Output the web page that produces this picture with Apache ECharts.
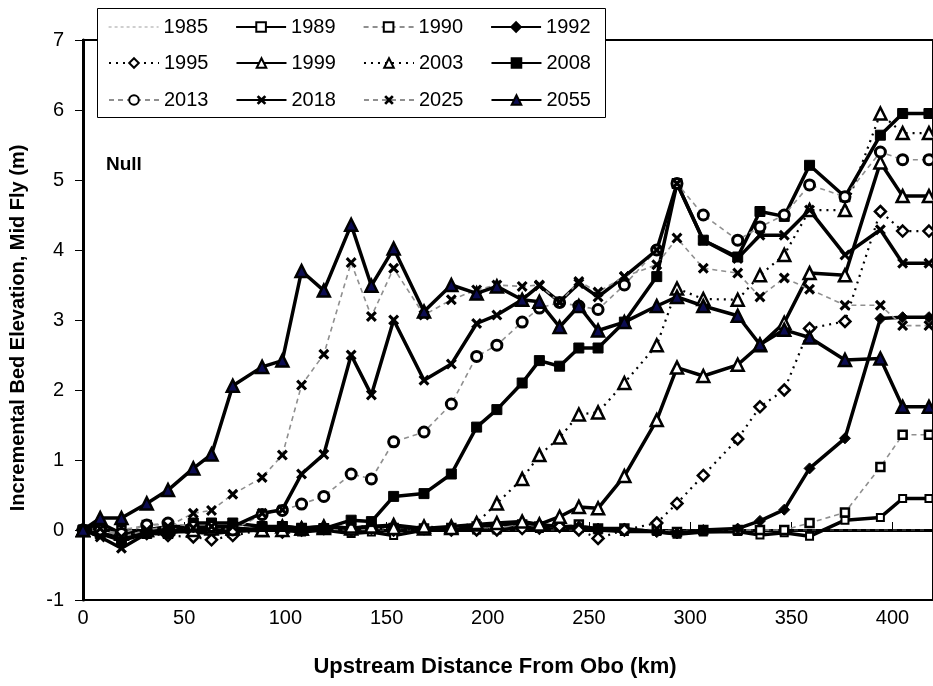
<!DOCTYPE html>
<html>
<head>
<meta charset="utf-8">
<script src="https://cdn.jsdelivr.net/npm/echarts@6/dist/echarts.min.js"></script>
<style>
  html, body { margin: 0; padding: 0; background: #fff; }
  #chart { width: 933px; height: 686px; }
</style>
</head>
<body>
<div id="chart"></div>
<script>
// Survey stations, upstream distance from Obo (km)
const km = [0, 8.5, 19, 31.5, 42, 54.5, 63.5, 74, 88.5, 98.5, 108, 119, 132.5, 142.5, 153.5, 168.5,
  182, 194.5, 204.5, 217, 225.5, 235.5, 245, 254.5, 267.5, 283.5, 293.5, 306.5, 323.5, 334.5,
  346.5, 359, 376.5, 394, 405, 418];

// Incremental bed elevation (m) per year
const y1985 = [0, 0, 0, 0, 0, 0, 0, 0, 0, 0, 0, 0, 0, 0, 0, 0, 0, 0, 0, 0, 0, 0, 0, 0, 0, 0, 0, 0, 0, 0, 0, 0, 0, 0, 0, 0];
const y1989 = [0, -0.05, -0.1, -0.05, -0.03, -0.02, 0, -0.02, 0, 0, -0.03, 0, -0.05, -0.03, -0.08, 0, 0, 0, 0, 0.05,
  0.02, 0.05, 0.02, 0, -0.02, -0.02, -0.06, -0.03, -0.02, -0.07, -0.04, -0.09, 0.14, 0.18, 0.45, 0.45];
const y1990 = [0, 0.05, 0, 0.07, 0.08, 0.05, 0.03, 0.05, 0.02, 0.05, 0.03, 0.02, 0, 0.02, 0.03, 0.02, 0.03, 0.05, 0.03,
  0.08, 0.05, 0.05, 0.08, 0.02, 0.02, 0, -0.03, 0, 0, 0, 0, 0.1, 0.25, 0.9, 1.36, 1.36];
const y1992 = [0, 0.02, -0.05, 0, 0, -0.03, -0.05, -0.02, 0.03, 0.05, 0.03, 0.05, 0.03, 0.05, 0.05, 0.02, 0, 0.05, 0.07,
  0.1, 0.08, 0.05, 0.05, 0.02, 0.02, -0.03, -0.05, 0, 0.02, 0.13, 0.29, 0.88, 1.31, 3.02, 3.04, 3.04];
const y1995 = [0, 0.03, -0.1, -0.05, -0.08, -0.1, -0.14, -0.08, 0, -0.03, 0, 0.02, 0, 0.03, 0, 0.02, 0, 0, 0, 0.02,
  0.03, 0.05, 0, -0.12, 0, 0.1, 0.38, 0.78, 1.3, 1.76, 2.0, 2.88, 2.98, 4.55, 4.27, 4.27];
const y1999 = [0, 0.1, -0.05, 0, 0.05, 0.05, 0.02, 0.03, 0, 0.05, 0.02, 0.05, 0.02, 0.05, 0.07, 0.02, 0.05, 0.08, 0.1,
  0.12, 0.08, 0.19, 0.33, 0.31, 0.77, 1.57, 2.32, 2.2, 2.36, 2.64, 2.96, 3.67, 3.64, 5.25, 4.77, 4.77];
const y2003 = [0, 0.02, -0.05, 0, 0.03, 0, 0.05, 0.02, 0, 0, 0.02, 0.03, 0.05, 0.05, 0.03, 0.05, 0.03, 0.1, 0.38,
  0.73, 1.07, 1.32, 1.65, 1.68, 2.1, 2.64, 3.45, 3.3, 3.29, 3.64, 3.93, 4.57, 4.57, 5.95, 5.67, 5.67];
const y2008 = [0, -0.05, -0.15, -0.05, -0.05, 0.1, 0.1, 0.1, 0.05, 0.05, 0.02, 0.02, 0.14, 0.12, 0.48, 0.52, 0.8, 1.47,
  1.72, 2.1, 2.42, 2.34, 2.6, 2.6, 2.97, 3.62, 4.95, 4.14, 3.9, 4.55, 4.48, 5.21, 4.76, 5.64, 5.95, 5.95];
const y2013 = [0, 0, -0.05, 0.07, 0.1, 0.05, 0.05, 0, 0.22, 0.28, 0.37, 0.48, 0.8, 0.73, 1.26, 1.4, 1.8, 2.48, 2.64,
  2.97, 3.17, 3.25, 3.2, 3.15, 3.5, 4.0, 4.95, 4.5, 4.14, 4.33, 4.5, 4.93, 4.76, 5.4, 5.29, 5.29];
const y2018 = [0, -0.1, -0.26, -0.05, -0.05, 0.03, 0.05, 0.05, 0.24, 0.29, 0.8, 1.08, 2.5, 1.93, 3.0, 2.14, 2.37, 2.95,
  3.07, 3.29, 3.49, 3.26, 3.52, 3.33, 3.62, 4.0, 4.95, 4.14, 3.88, 4.21, 4.21, 4.57, 3.93, 4.29, 3.81, 3.81];
const y2025 = [0, 0.02, -0.1, 0, 0.05, 0.24, 0.28, 0.51, 0.75, 1.07, 2.07, 2.51, 3.82, 3.05, 3.74, 3.07, 3.29, 3.43,
  3.5, 3.48, 3.5, 3.25, 3.55, 3.4, 3.62, 3.79, 4.17, 3.74, 3.67, 3.33, 3.6, 3.44, 3.21, 3.21, 2.92, 2.92];
const y2055 = [0, 0.17, 0.17, 0.38, 0.57, 0.88, 1.08, 2.06, 2.33, 2.42, 3.7, 3.42, 4.36, 3.49, 4.02, 3.12, 3.5, 3.38,
  3.48, 3.29, 3.26, 2.9, 3.2, 2.85, 2.97, 3.2, 3.33, 3.2, 3.06, 2.65, 2.86, 2.75, 2.43, 2.45, 1.76, 1.76];

const legendRows = [
  ['1985', '1989', '1990', '1992'],
  ['1995', '1999', '2003', '2008'],
  ['2013', '2018', '2025', '2055']
];

const xTicks = { min: 0, max: 420, interval: 50 };
const yTicks = { min: -1, max: 7, interval: 1 };

const FONT = '"Liberation Sans", Arial, sans-serif';
const CROSS = 'path://M0,2 L2,0 L5,3 L8,0 L10,2 L7,5 L10,8 L8,10 L5,7 L2,10 L0,8 L3,5 Z';

const solid = { color: '#000', width: 3.5, type: 'solid' };
const grayDash = { color: '#8f8f8f', width: 1.6, type: [5, 4] };
const dotted = { color: '#000', width: 2.2, type: [2, 5] };
const hollow = { color: '#fff', borderColor: '#000', borderWidth: 2.5 };
const filled = { color: '#000', borderColor: '#000', borderWidth: 1 };

const styles = {
  '1985': { values: y1985, line: { color: '#2a2a2a', width: 2, type: [4, 5] }, symbol: 'none',
            legendLine: { color: '#a0a0a0', width: 1.2, type: [3, 3] } },
  '1989': { values: y1989, line: solid, symbol: 'rect', size: 7, item: { color: '#fff', borderColor: '#000', borderWidth: 2 } },
  '1990': { values: y1990, line: grayDash, symbol: 'rect', size: 8, item: hollow },
  '1992': { values: y1992, line: solid, symbol: 'diamond', size: 11, item: filled },
  '1995': { values: y1995, line: dotted, symbol: 'diamond', size: 11, item: hollow },
  '1999': { values: y1999, line: solid, symbol: 'triangle', size: 12, item: hollow },
  '2003': { values: y2003, line: dotted, symbol: 'triangle', size: 12, item: hollow },
  '2008': { values: y2008, line: solid, symbol: 'rect', size: 10, item: filled },
  '2013': { values: y2013, line: grayDash, symbol: 'circle', size: 10, item: { color: '#fff', borderColor: '#000', borderWidth: 3 } },
  '2018': { values: y2018, line: solid, symbol: CROSS, size: 11, item: { color: '#000' } },
  '2025': { values: y2025, line: grayDash, symbol: CROSS, size: 11, item: { color: '#000' } },
  '2055': { values: y2055, line: solid, symbol: 'triangle', size: 12, item: { color: '#0c0c52', borderColor: '#000', borderWidth: 2.5 } }
};

const order = ['1985', '1989', '1990', '1992', '1995', '1999', '2003', '2008', '2013', '2018', '2025', '2055'];

const series = order.map(name => {
  const s = styles[name];
  return {
    name: name,
    type: 'line',
    data: km.map((x, i) => [x, s.values[i]]),
    symbol: s.symbol,
    symbolSize: s.size || 0,
    showSymbol: s.symbol !== 'none',
    lineStyle: s.line,
    itemStyle: s.item || { color: s.line.color },
    animation: false,
    emphasis: { disabled: true }
  };
});

// Legend entries: the marker-less series keeps only its dashed line
const legends = legendRows.map((row, r) => ({
  data: row.map(name => {
    const s = styles[name];
    return s.legendLine
      ? { name: name, lineStyle: s.legendLine, itemStyle: { opacity: 0 } }
      : { name: name };
  }),
  orient: 'horizontal',
  left: 108,
  top: [17, 53, 90][r],
  padding: 0,
  z: 10,
  itemWidth: 50,
  itemHeight: 12,
  itemGap: 27,
  selectedMode: false,
  textStyle: { fontFamily: FONT, fontSize: 20, color: '#000', lineHeight: 20 }
}));

const chart = echarts.init(document.getElementById('chart'), null, { renderer: 'canvas' });
chart.setOption({
  backgroundColor: '#fff',
  animation: false,
  grid: { left: 82, top: 40, width: 859, height: 560, show: true, borderColor: '#000', borderWidth: 2, backgroundColor: 'transparent' },
  legend: legends,
  xAxis: {
    type: 'value',
    min: xTicks.min, max: xTicks.max, interval: xTicks.interval,
    name: 'Upstream Distance From Obo (km)',
    nameLocation: 'middle',
    nameGap: 56,
    nameTextStyle: { fontFamily: FONT, fontSize: 22, fontWeight: 'bold', color: '#000', padding: [0, 26, 0, 0] },
    axisLine: { lineStyle: { color: '#000', width: 3 } },
    axisTick: { inside: true, length: 8, lineStyle: { color: '#000', width: 1 } },
    axisLabel: { fontFamily: FONT, fontSize: 20, color: '#000', margin: 8, showMaxLabel: false },
    splitLine: { show: false }
  },
  yAxis: {
    type: 'value',
    min: yTicks.min, max: yTicks.max, interval: yTicks.interval,
    name: 'Incremental Bed Elevation, Mid Fly (m)',
    nameLocation: 'middle',
    nameGap: 55,
    nameTextStyle: { fontFamily: FONT, fontSize: 20, fontWeight: 'bold', color: '#000', padding: [0, 16, 0, 0] },
    axisLine: { lineStyle: { color: '#000', width: 3 } },
    axisTick: { length: 8, lineStyle: { color: '#000', width: 1 } },
    axisLabel: { fontFamily: FONT, fontSize: 20, color: '#000', margin: 19 },
    splitLine: { show: false }
  },
  graphic: [
    { type: 'rect', left: 97, top: 8, z: 3, shape: { width: 508, height: 109 },
      style: { fill: '#fff', stroke: '#000', lineWidth: 1 } },
    { type: 'text', left: 106, top: 155, z: 5,
      style: { text: 'Null', font: 'bold 19px ' + FONT, fill: '#000' } }
  ],
  series: series
});
</script>
</body>
</html>
